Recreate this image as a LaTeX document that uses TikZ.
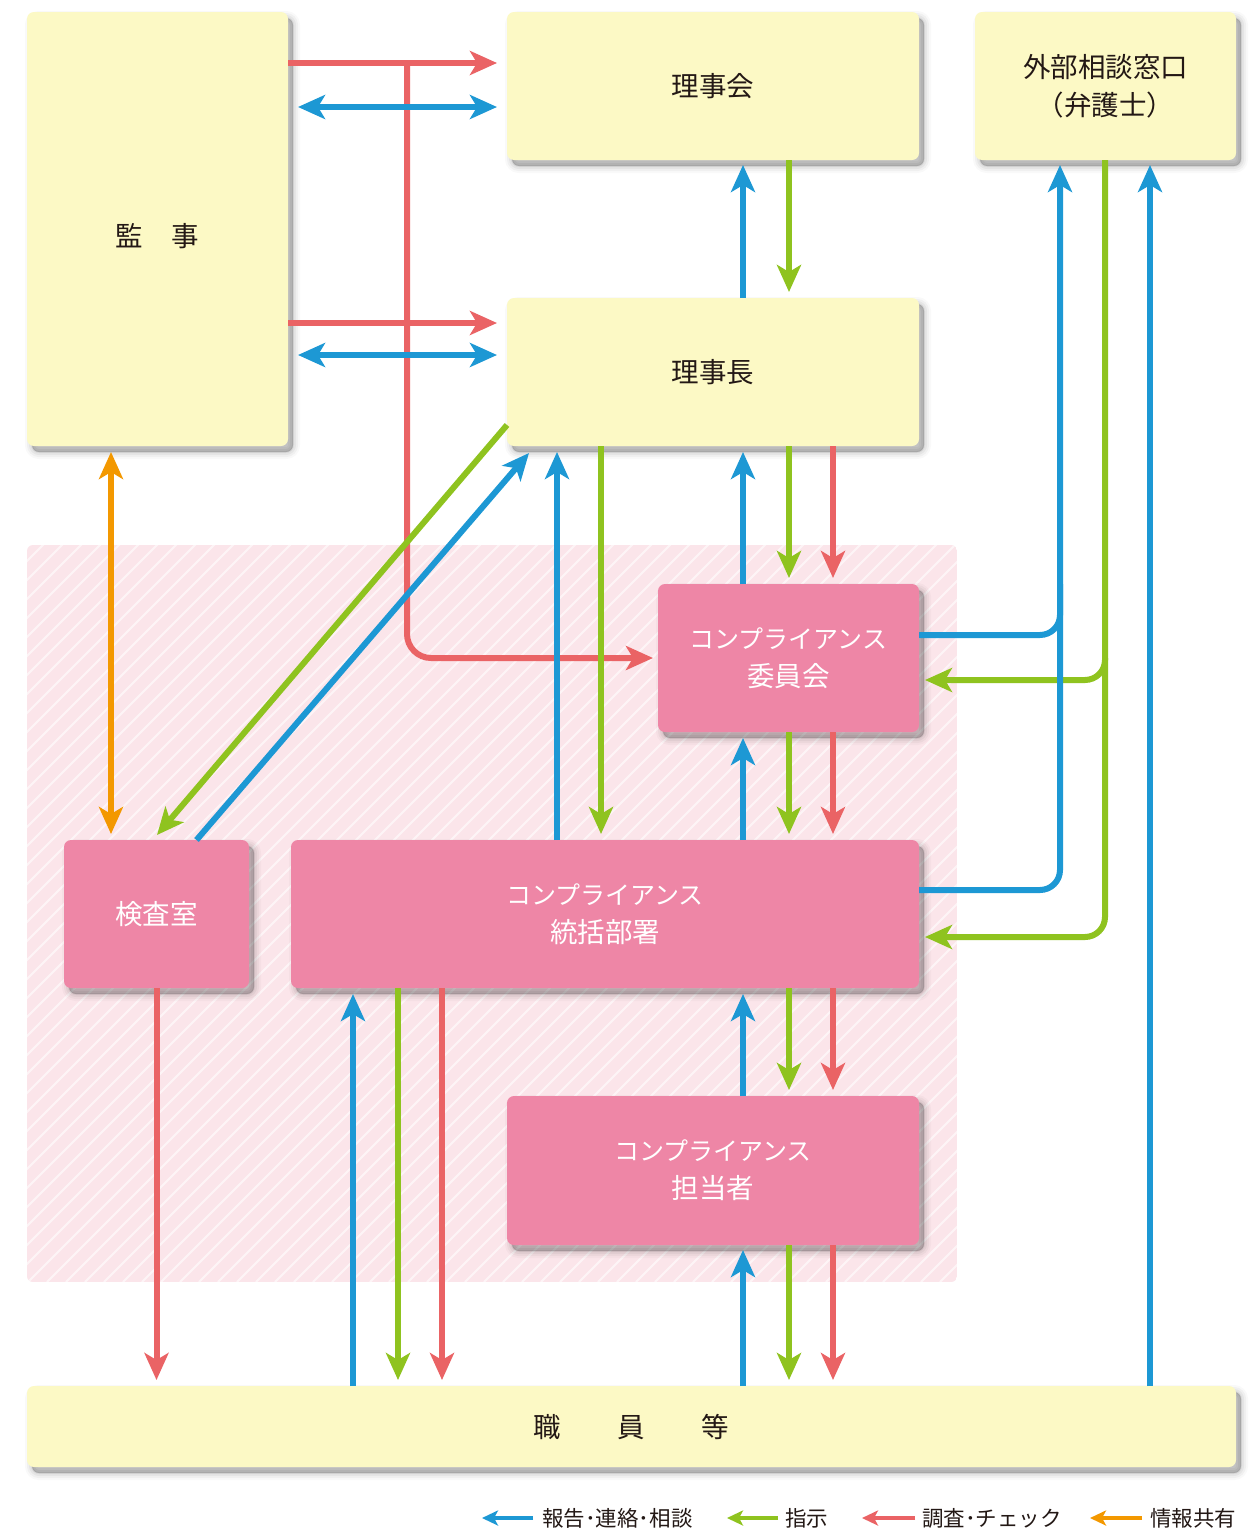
\documentclass[tikz,border=0pt]{standalone}
\usepackage{fontspec}
\setmainfont{Noto Sans CJK JP}
\usetikzlibrary{arrows.meta,calc,shadows}
\definecolor{ylw}{RGB}{252,249,197}
\definecolor{pnk}{RGB}{238,134,166}
\definecolor{pbg}{RGB}{251,229,234}
\definecolor{cred}{RGB}{234,99,101}
\definecolor{cblue}{RGB}{29,152,212}
\definecolor{cgreen}{RGB}{143,195,31}
\definecolor{corange}{RGB}{243,152,0}
\definecolor{txt}{RGB}{35,24,21}
\newcommand{\kj}[1]{{\fontsize{27.5}{37}\selectfont #1}}
\tikzset{
  softshadow/.style={
    general shadow={fill=black, draw=black, line width=14pt, opacity=0.025, shadow xshift=5pt, shadow yshift=-6pt},
    general shadow={fill=black, draw=black, line width=10pt, opacity=0.035, shadow xshift=5pt, shadow yshift=-6pt},
    general shadow={fill=black, draw=black, line width=6pt, opacity=0.045, shadow xshift=5pt, shadow yshift=-6pt},
    general shadow={fill=black, draw=black, line width=2pt, opacity=0.06, shadow xshift=5pt, shadow yshift=-6pt},
    general shadow={fill=black, opacity=0.07, shadow xshift=5pt, shadow yshift=-6pt}},
  box/.style={rounded corners=7pt, inner sep=0pt, outer sep=0pt, anchor=north west,
    font=\fontsize{25}{38}\selectfont, align=center, softshadow},
  ybox/.style={box, fill=ylw, text=txt},
  pbox/.style={box, fill=pnk, text=white},
  >={Stealth[length=27pt,width=24pt,inset=7pt]},
  conn/.style={line width=6pt},
  rarr/.style={conn, draw=cred},
  barr/.style={conn, draw=cblue},
  garr/.style={conn, draw=cgreen},
  oarr/.style={conn, draw=corange},
  lg/.style={anchor=west, inner sep=0pt, text=txt, font=\fontsize{21.5}{24}\selectfont},
  lgarr/.style={line width=4pt, -{Stealth[length=16pt,width=15pt,inset=4pt]}},
}
\begin{document}
\begin{tikzpicture}[x=1pt,y=-1pt]
\useasboundingbox (0,0) rectangle (1255,1531);
\fill[white] (0,0) rectangle (1255,1531);

% hatched background region
\begin{scope}
  \clip[rounded corners=6pt] (27,545) rectangle (957,1282);
  \fill[pbg] (27,545) rectangle (957,1282);
  \foreach \i in {0,19,...,1710}
    \draw[white, opacity=0.6, line width=2pt] (\i-713,1282) -- ++(740,-740);
\end{scope}

% boxes
\node[ybox, minimum width=261pt, minimum height=434pt] (kanji) at (27,12) {\raisebox{-7pt}[\height][\depth]{\kj{監\hspace{1.05em}事}}};
\node[ybox, minimum width=412pt, minimum height=148pt] (rijikai) at (507,12) {\kj{理事会}};
\node[ybox, minimum width=261pt, minimum height=148pt] (gaibu) at (975,12) {\kj{外部相談窓口}\\\kj{（弁護士）}};
\node[ybox, minimum width=412pt, minimum height=148pt] (rijicho) at (507,298) {\kj{理事長}};
\node[pbox, minimum width=261pt, minimum height=148pt] (iinkai) at (658,584) {コンプライアンス\\\kj{委員会}};
\node[pbox, minimum width=185pt, minimum height=148pt] (kensa) at (64,840) {\kj{検査室}};
\node[pbox, minimum width=628pt, minimum height=148pt] (tokatsu) at (291,840) {コンプライアンス\\\kj{統括部署}};
\node[pbox, minimum width=412pt, minimum height=149pt] (tanto) at (507,1096) {コンプライアンス\\\kj{担当者}};
\node[ybox, minimum width=1209pt, minimum height=81pt] (shokuin) at (27,1386) {\kj{職\hspace{2.05em}員\hspace{2.05em}等}};

% column coordinates
\coordinate (c111) at (111,0);
\coordinate (c353) at (353,0);
\coordinate (c398) at (398,0);
\coordinate (c407) at (407,0);
\coordinate (c442) at (442,0);
\coordinate (c557) at (557,0);
\coordinate (c601) at (601,0);
\coordinate (c743) at (743,0);
\coordinate (c789) at (789,0);
\coordinate (c833) at (833,0);
\coordinate (c1060) at (1060,0);
\coordinate (c1105) at (1105,0);
\coordinate (c1150) at (1150,0);
\coordinate (bI) at ($(iinkai.east)+(0,-23)$);
\coordinate (gI) at ($(iinkai.east)+(0,22)$);
\coordinate (bT) at ($(tokatsu.east)+(0,-24)$);
\coordinate (gT) at ($(tokatsu.east)+(0,23)$);

% red connectors
\draw[rarr, ->, shorten >=10pt] ($(kanji.north east)+(0,51)$) -- ($(rijikai.north west)+(0,51)$);
\draw[rarr, ->, rounded corners=24pt, shorten >=5pt] (c407 |- kanji.north) ++(0,51) -- (c407 |- iinkai.west) -- (iinkai.west);
\draw[rarr, ->, shorten >=10pt] ($(kanji.north east)+(0,311)$) -- ($(rijicho.north west)+(0,25)$);
\draw[rarr, ->, shorten >=6pt] (c833 |- rijicho.south) -- (c833 |- iinkai.north);
\draw[rarr, ->, shorten >=6pt] (c833 |- iinkai.south) -- (c833 |- tokatsu.north);
\draw[rarr, ->, shorten >=6pt] (c833 |- tokatsu.south) -- (c833 |- tanto.north);
\draw[rarr, ->, shorten >=6pt] (c833 |- tanto.south) -- (c833 |- shokuin.north);
\draw[rarr, ->, shorten >=6pt] (kensa.south) -- (kensa.south |- shokuin.north);
\draw[rarr, ->, shorten >=6pt] (c442 |- tokatsu.south) -- (c442 |- shokuin.north);

% green connectors
\draw[garr, ->, shorten >=6pt] (c789 |- rijikai.south) -- (c789 |- rijicho.north);
\draw[garr, ->, shorten >=6pt] (c789 |- rijicho.south) -- (c789 |- iinkai.north);
\draw[garr, ->, shorten >=6pt] (c789 |- iinkai.south) -- (c789 |- tokatsu.north);
\draw[garr, ->, shorten >=6pt] (c789 |- tokatsu.south) -- (c789 |- tanto.north);
\draw[garr, ->, shorten >=6pt] (c789 |- tanto.south) -- (c789 |- shokuin.north);
\draw[garr, ->, shorten >=6pt] (c601 |- rijicho.south) -- (c601 |- tokatsu.north);
\draw[garr, ->, shorten >=6pt] (c398 |- tokatsu.south) -- (c398 |- shokuin.north);
\draw[garr, ->] ($(rijicho.south west)+(0,-21)$) -- ($(kensa.north)+(0.5,-5)$);
\draw[garr, ->, rounded corners=20pt, shorten >=6pt] (c1105 |- gaibu.south) -- (c1105 |- gI) -- (gI);
\draw[garr, ->, rounded corners=20pt, shorten >=6pt] (c1105 |- iinkai.east) -- (c1105 |- gT) -- (gT);

% blue connectors
\draw[barr, <->, shorten <=10pt, shorten >=10pt] ($(kanji.north east)+(0,95)$) -- ($(rijikai.north west)+(0,95)$);
\draw[barr, <->, shorten <=10pt, shorten >=10pt] ($(kanji.north east)+(0,343)$) -- ($(rijicho.north west)+(0,57)$);
\draw[barr, ->, shorten >=5pt] (c743 |- rijicho.north) -- (c743 |- rijikai.south);
\draw[barr, ->, shorten >=6pt] (c743 |- iinkai.north) -- (c743 |- rijicho.south);
\draw[barr, ->, shorten >=6pt] (c743 |- tokatsu.north) -- (c743 |- iinkai.south);
\draw[barr, ->, shorten >=6pt] (c743 |- tanto.north) -- (c743 |- tokatsu.south);
\draw[barr, ->, shorten >=5pt] (c743 |- shokuin.north) -- (c743 |- tanto.south);
\draw[barr, ->, shorten >=6pt] (c557 |- tokatsu.north) -- (c557 |- rijicho.south);
\draw[barr, ->, shorten >=6pt] (c353 |- shokuin.north) -- (c353 |- tokatsu.south);
\draw[barr, ->] ($(kensa.north)+(40,0)$) -- ($(rijicho.south west)+(22,7)$);
\draw[barr, rounded corners=20pt] (bT) -- (c1060 |- bT) -- (c1060 |- iinkai.north);
\draw[barr, ->, rounded corners=20pt, shorten >=5pt] (bI) -- (c1060 |- bI) -- (c1060 |- gaibu.south);
\draw[barr, ->, shorten >=5pt] (c1150 |- shokuin.north) -- (c1150 |- gaibu.south);

% orange connector
\draw[oarr, <->, shorten <=6pt, shorten >=6pt] (c111 |- kanji.south) -- (c111 |- kensa.north);

% legend
\node[lg] (l1) at (542,1518) {報告･連絡･相談};
\node[lg] (l2) at (785,1518) {指示};
\node[lg] (l3) at (922,1518) {調査･チェック};
\node[lg] (l4) at (1150,1518) {情報共有};
\draw[lgarr, cblue] ($(l1.west)+(-9,0)$) -- ++(-51,0);
\draw[lgarr, cgreen] ($(l2.west)+(-7,0)$) -- ++(-51,0);
\draw[lgarr, cred] ($(l3.west)+(-7,0)$) -- ++(-53,0);
\draw[lgarr, corange] ($(l4.west)+(-8,0)$) -- ++(-52,0);
\end{tikzpicture}
\end{document}
